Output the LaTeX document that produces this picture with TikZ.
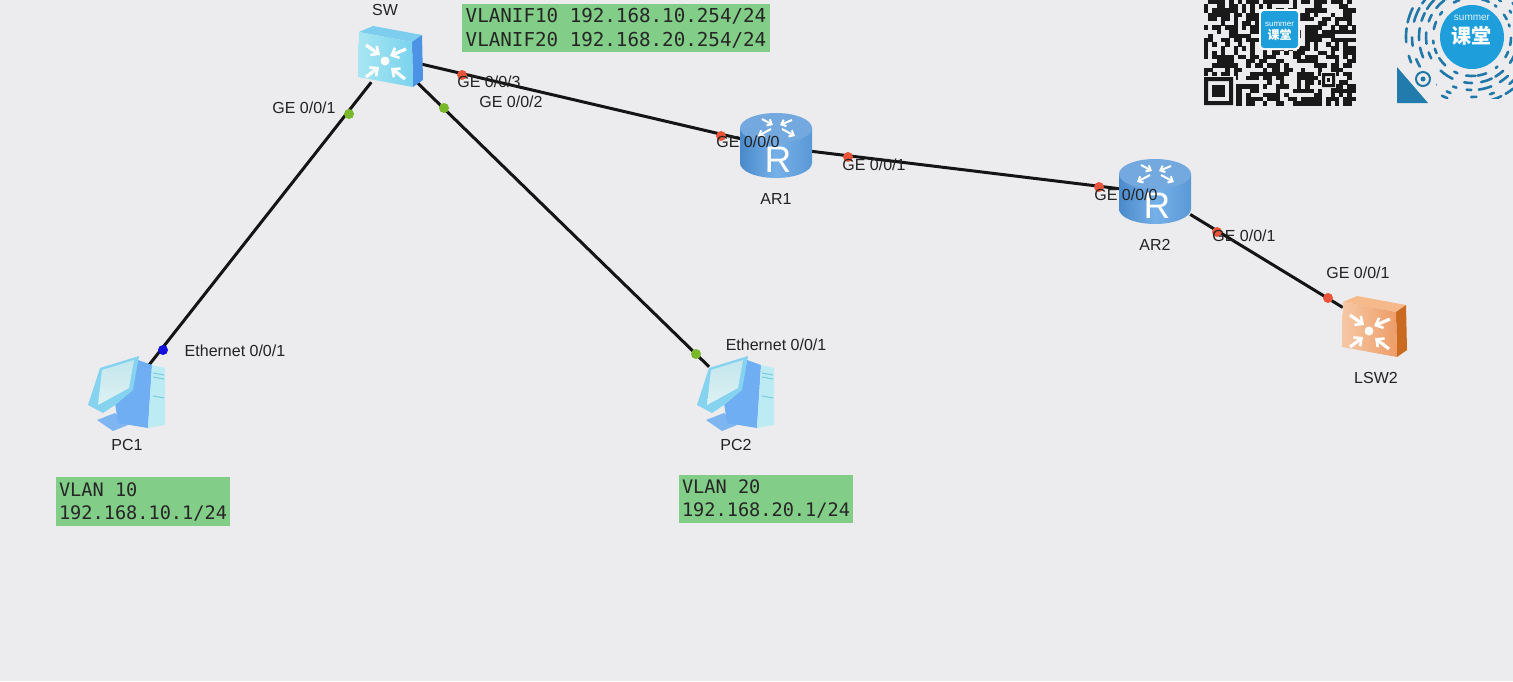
\documentclass[tikz,border=0pt]{standalone}
\usepackage{fontspec}
\setmainfont{Liberation Sans}
\newfontfamily\cjk{Noto Sans CJK SC}
\newfontfamily\mono{DejaVu Sans Mono}
\usetikzlibrary{arrows.meta}
\definecolor{bg}{HTML}{ECECEE}
\definecolor{boxgreen}{HTML}{82CD87}
\definecolor{portred}{HTML}{E8553A}
\definecolor{portgreen}{HTML}{78B82A}
\definecolor{portblue}{HTML}{1212DC}
\definecolor{txt}{HTML}{222222}
\definecolor{qrblue}{HTML}{1E9FDB}
\definecolor{codeblue}{HTML}{2178A8}
\definecolor{rta}{HTML}{4A8ACB}
\definecolor{rtb}{HTML}{5A98D6}
\definecolor{rtc}{HTML}{76B0E8}
\definecolor{rtop}{HTML}{74A9E0}
\definecolor{pcblue}{HTML}{6FAEF2}
\definecolor{pctower}{HTML}{BDEBF3}
\definecolor{pcline}{HTML}{7CCBDD}
\definecolor{pcrim}{HTML}{86D3F0}
\definecolor{pcscra}{HTML}{C4E6EE}
\definecolor{pcscrb}{HTML}{DDF2F3}
\definecolor{pcstand}{HTML}{7FB6F2}
\definecolor{bswtop}{HTML}{7CCDEE}
\definecolor{bswside}{HTML}{4C93E6}
\definecolor{bswfa}{HTML}{A8E6F2}
\definecolor{bswfb}{HTML}{7AD3EE}
\definecolor{oswtop}{HTML}{F5B98A}
\definecolor{oswside}{HTML}{C96A20}
\definecolor{oswfa}{HTML}{F6C8A6}
\definecolor{oswfb}{HTML}{EE9C66}
\tikzset{
 anchorbox/.style 2 args={rectangle,inner sep=0pt,minimum width=#1,minimum height=#2},
 link/.style={line width=3pt,draw=black!92},
 portdot/.style={circle,fill=#1,inner sep=0pt,minimum size=10pt},
 lab/.style={font=\fontsize{16}{18}\selectfont,text=txt,inner sep=0pt},
 infobox/.style={fill=boxgreen,inner sep=0pt,align=left,text=black!85,font=\mono\fontsize{19.2}{24}\selectfont},
 vlanbox/.style={infobox,font=\mono\fontsize{18.6}{23}\selectfont,inner xsep=3pt},
 chevron/.style={white,line width=3.2pt,-{Straight Barb[length=6pt,width=11pt,line width=2.6pt]}},
 switchicon/.pic={
  \fill[swtop] (-32,-25) -- (-18,-31) -- (31,-22) -- (21,-15) -- cycle;
  \fill[swside] (21,-15) -- (31,-22) -- (32,23) -- (22,30) -- cycle;
  \shade[left color=swfa,right color=swfb] (-32,-25) -- (21,-15) -- (22,30) -- (-33,20) -- cycle;
  \fill[white] (-6,4) circle[radius=4.5];
  \draw[chevron] (-25,-12) -- (-11,-2);
  \draw[chevron] (15,-8) -- (-1,-1);
  \draw[chevron] (-25,20) -- (-12,10);
  \draw[chevron] (14,22) -- (0,11);
 },
 routericon/.pic={
  \shade[left color=rta,right color=rtb,middle color=rtc] (-36,-19) -- (-36,16) arc[start angle=180,end angle=360,x radius=36,y radius=-15] -- (36,-19) -- cycle;
  \fill[rtop] (0,-19) ellipse[x radius=36,y radius=15];
  \begin{scope}[white,line width=2pt,-{Straight Barb[length=4pt,width=7pt]}]
   \draw (-14,-28) -- (-3,-22);
   \draw (16,-27) -- (4,-22);
   \draw (-5,-18) -- (-18,-11);
   \draw (6,-18) -- (19,-11);
  \end{scope}
  \node[text=white,font=\fontsize{37}{37}\selectfont,inner sep=0pt] (letter) at (2,13) {R};
 },
 pcicon/.pic={
  \fill[pcstand] (-30,27) -- (-12,20) -- (1,32) -- (-14,38) -- cycle;
  \fill[pcblue] (11,-33) -- (25,-28) -- (21,35) -- (-9,30) -- (-12,10) -- (1,-3) -- cycle;
  \fill[pctower] (25,-28) -- (38,-25) -- (38,32) -- (21,35) -- cycle;
  \draw[pcline,line width=1pt] (26,-20) -- (37,-18) (26,-16) -- (37,-14) (26,3) -- (37,5);
  \fill[pcrim] (-27,-25) -- (12,-37) -- (6,-3) -- (-12,12) -- (-24,20) -- (-39,12) -- cycle;
  \shade[top color=pcscra,bottom color=pcscrb] (-25,-23) -- (7,-33) -- (2,-5) -- (-29,12) -- cycle;
  \fill[pcblue] (-10,20) -- (-5,18) -- (-1,30) -- (-8,30) -- cycle;
 }
}
\begin{document}
\begin{tikzpicture}[x=1pt,y=-1pt]
\useasboundingbox (0,0) rectangle (1513,681);
\begin{scope}
\clip (0,0) rectangle (1513,681);
\fill[bg] (0,0) rectangle (1513,681);

% anchors for connectors
\node[anchorbox={60}{50}] (SW) at (391,57) {};
\node[anchorbox={70}{50}] (AR1) at (776,147) {};
\node[anchorbox={70}{50}] (AR2) at (1155,193) {};
\node[anchorbox={64}{56}] (LSW2) at (1375,327) {};
\node[anchorbox={76}{56}] (PC1) at (127,393) {};
\node[anchorbox={76}{52}] (PC2) at (736,393) {};

% connectors
\draw[link] (SW) -- (PC1);
\draw[link] (SW) -- (PC2);
\draw[link] (SW) -- (AR1);
\draw[link] (AR1) -- (AR2);
\draw[link] (AR2) -- (LSW2);

% icons
\colorlet{swtop}{bswtop}\colorlet{swside}{bswside}\colorlet{swfa}{bswfa}\colorlet{swfb}{bswfb}
\path (SW.center) pic {switchicon};
\colorlet{swtop}{oswtop}\colorlet{swside}{oswside}\colorlet{swfa}{oswfa}\colorlet{swfb}{oswfb}
\path (LSW2.center) pic {switchicon};
\path (AR1.center) pic[name prefix=a1] {routericon};
\path (AR2.center) pic[name prefix=a2] {routericon};
\path (PC1.center) pic {pcicon};
\path (PC2.center) pic {pcicon};

% port dots
\node[portdot=portgreen] (d1) at (349,114) {};
\node[portdot=portgreen] (d2) at (444,108) {};
\node[portdot=portred] (d3) at (462,75) {};
\node[portdot=portred] (d4) at (721,136) {};
\node[portdot=portred] (d5) at (848,157) {};
\node[portdot=portred] (d6) at (1099,187) {};
\node[portdot=portred] (d7) at (1217,232) {};
\node[portdot=portred] (d8) at (1328,298) {};
\node[portdot=portblue] (d9) at (163,350) {};
\node[portdot=portgreen] (d10) at (696,354) {};

% labels
\node[lab] (tSW) at (385,10) {SW};
\node[lab] (tAR1) at (776,199) {AR1};
\node[lab] (tAR2) at (1155,245) {AR2};
\node[lab] (tLSW) at (1376,378) {LSW2};
\node[lab] (tPC1) at (127,445) {PC1};
\node[lab] (tPC2) at (736,445) {PC2};
\node[lab] (p1) at (304,108) {GE 0/0/1};
\node[lab] (p2) at (511,102) {GE 0/0/2};
\node[lab] (p3) at (489,82) {GE 0/0/3};
\node[lab] (p4) at (748,142) {GE 0/0/0};
\node[lab] (p5) at (874,165) {GE 0/0/1};
\node[lab] (p6) at (1126,195) {GE 0/0/0};
\node[lab] (p7) at (1244,236) {GE 0/0/1};
\node[lab] (p8) at (1358,273) {GE 0/0/1};
\node[lab] (e1) at (235,351) {Ethernet 0/0/1};
\node[lab] (e2) at (776,345) {Ethernet 0/0/1};

% info boxes
\node[infobox,minimum width=308pt,minimum height=48pt] (bSW) at (616,28) {VLANIF10 192.168.10.254/24\\VLANIF20 192.168.20.254/24};
\node[vlanbox,minimum height=49pt,minimum width=174pt] (bPC1) at (143,501.5) {VLAN 10\\192.168.10.1/24};
\node[vlanbox,minimum height=48pt,minimum width=174pt] (bPC2) at (766,499) {VLAN 20\\192.168.20.1/24};

% QR code
\pgfmathsetseed{4217}
\foreach \i in {0,...,35}{
 \foreach \j in {0,...,24}{
  \pgfmathrandominteger{\qrbit}{0}{99}
  \ifnum\qrbit<57
   \fill[black!90] ({1204+\i*4.22},{\j*4.22}) rectangle +(4.4,4.4);
  \fi
 }
}
\fill[bg] (1203,76) rectangle (1236,106);
\fill[black!90,even odd rule] (1204,77) rectangle (1233,105) (1208,81) rectangle (1229,101);
\fill[black!90] (1212,85) rectangle (1225,97);
\fill[bg] (1321,72) rectangle (1336,88);
\fill[black!90,even odd rule] (1322,73) rectangle (1335,87) (1325,76) rectangle (1332,84);
\fill[black!90] (1327,78) rectangle (1330,82);
\fill[white,rounded corners=4pt] (1259,9) rectangle (1300,50);
\fill[qrblue,rounded corners=3pt] (1261,11) rectangle (1298,48);
\node[text=white,font=\fontsize{8}{8}\selectfont,inner sep=0pt] (qrs) at (1279.5,24) {summer};
\node[text=white,font=\cjk\fontsize{12}{12}\selectfont\bfseries,inner sep=0pt] (qrk) at (1279.5,35) {课堂};

% mini-program code
\begin{scope}
\clip (1400,0) rectangle (1513,98);
\pgfmathsetseed{931}
\foreach \rr in {39,46,53,60,66}{
 \foreach \n in {0,...,16}{
  \pgfmathrandominteger{\st}{0}{9}
  \pgfmathrandominteger{\ln}{3}{14}
  \pgfmathsetmacro{\sa}{\n*21.2+\st}
  \pgfmathsetmacro{\ea}{\sa+\ln}
  \draw[codeblue,line width=2.6pt,line cap=round] ({1472+\rr*cos(\sa)},{37+\rr*sin(\sa)}) arc[start angle=\sa,end angle=\ea,radius=\rr];
 }
}
\end{scope}
\fill[bg] (1397,62) -- (1397,106) -- (1436,106) -- cycle;
\fill[bg] (1410,68) rectangle (1436,92);
\fill[codeblue!90!qrblue] (1397,67) -- (1428,103) -- (1397,103) -- cycle;
\draw[codeblue,line width=2pt] (1423,79) circle[radius=7];
\fill[codeblue] (1423,79) circle[radius=2.5];
\fill[bg] (1472,37) circle[radius=35];
\fill[qrblue] (1472,37) circle[radius=32];
\node[text=white!85!qrblue,font=\fontsize{10}{10}\selectfont,inner sep=0pt] (ms) at (1472,18) {summer};
\node[text=white,font=\cjk\fontsize{20}{20}\selectfont\bfseries,inner sep=0pt] (mk) at (1471,36) {课堂};
\end{scope}
\end{tikzpicture}
\end{document}
